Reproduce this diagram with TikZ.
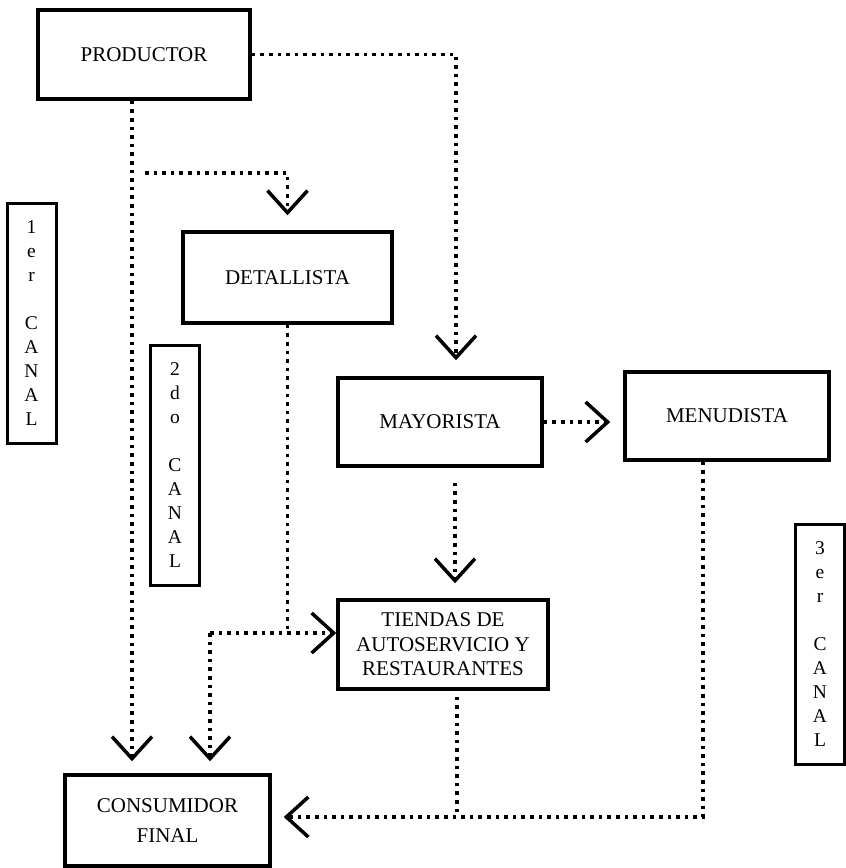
\documentclass[tikz,border=0pt]{standalone}
\usepackage{fontspec}
\setmainfont{Liberation Serif}
\usetikzlibrary{arrows.meta}
\begin{document}
\begin{tikzpicture}[x=1pt,y=-1pt,
  box/.style={draw, line width=3.5pt, rectangle, inner sep=0pt, align=center,
    font=\fontsize{21}{24.5}\selectfont},
  vlabel/.style={draw, line width=3pt, rectangle, inner sep=0pt, align=center,
    font=\fontsize{19.5}{24}\selectfont, minimum width=49pt, minimum height=240pt},
  flow/.style={line width=3.6pt, dash pattern=on 3.6pt off 5pt},
  tip/.style={-{Straight Barb[length=22pt,width=40pt,line width=3.5pt]}},
]
\useasboundingbox (0,0) rectangle (846,868);

% boxes
\node[box, minimum width=212pt, minimum height=89pt] (prod) at (144,54.5) {PRODUCTOR};
\node[box, minimum width=209pt, minimum height=91pt] (det) at (287.5,277.5) {DETALLISTA};
\node[box, minimum width=204pt, minimum height=88pt] (mayor) at (440,422) {MAYORISTA};
\node[box, minimum width=204pt, minimum height=88pt] (menu) at (727,416) {MENUDISTA};
\node[box, minimum width=210pt, minimum height=89pt] (tiendas) at (443,644.5) {TIENDAS DE\\AUTOSERVICIO Y\\RESTAURANTES};
\node[box, minimum width=205pt, minimum height=91pt] (cons) at (167.5,820.5) {CONSUMIDOR\\[5pt]FINAL};

% channel labels
\node[vlabel] (c1) at (31.5,323.5) {1\\e\\r\\[24pt]C\\A\\N\\A\\L};
\node[vlabel] (c2) at (175,465) {2\\d\\o\\[24pt]C\\A\\N\\A\\L};
\node[vlabel] (c3) at (820,644.5) {3\\e\\r\\[24pt]C\\A\\N\\A\\L};

% helper coordinates
\coordinate (pv) at ([xshift=-12pt]prod.south);
\coordinate (b1) at (145,173);
\coordinate (j1) at (287.5,633);
\coordinate (j2) at (210,633);
\coordinate (mv) at ([xshift=15pt]mayor.south);
\coordinate (tv) at ([xshift=14pt]tiendas.south);
\coordinate (mn) at ([xshift=-24pt]menu.south);
\coordinate (h1) at (703,817);

% connectors
\draw[flow, tip, shorten >=16pt] (prod.east) -| ([xshift=16pt]mayor.north);
\draw[flow, tip, shorten >=12pt] (pv) -- (pv |- cons.north);
\draw[flow, tip, shorten >=15pt] (b1) -| (det.north);
\draw[flow] (det.south) -- (j1);
\draw[flow, tip] (j2) -- (j2 -| tiendas.west);
\draw[flow, tip, shorten >=12pt] (j2) -- (j2 |- cons.north);
\draw[flow, tip, shorten >=13pt] (mayor.east) -- (mayor.east -| menu.west);
\draw[flow, tip, shorten <=15pt, shorten >=15pt] (mv) -- (mv |- tiendas.north);
\draw[flow, shorten <=6pt] (tv) -- (tv |- h1);
\draw[flow, tip, shorten >=12pt] (mn) -- (h1) -- (h1 -| cons.east);
\end{tikzpicture}
\end{document}
